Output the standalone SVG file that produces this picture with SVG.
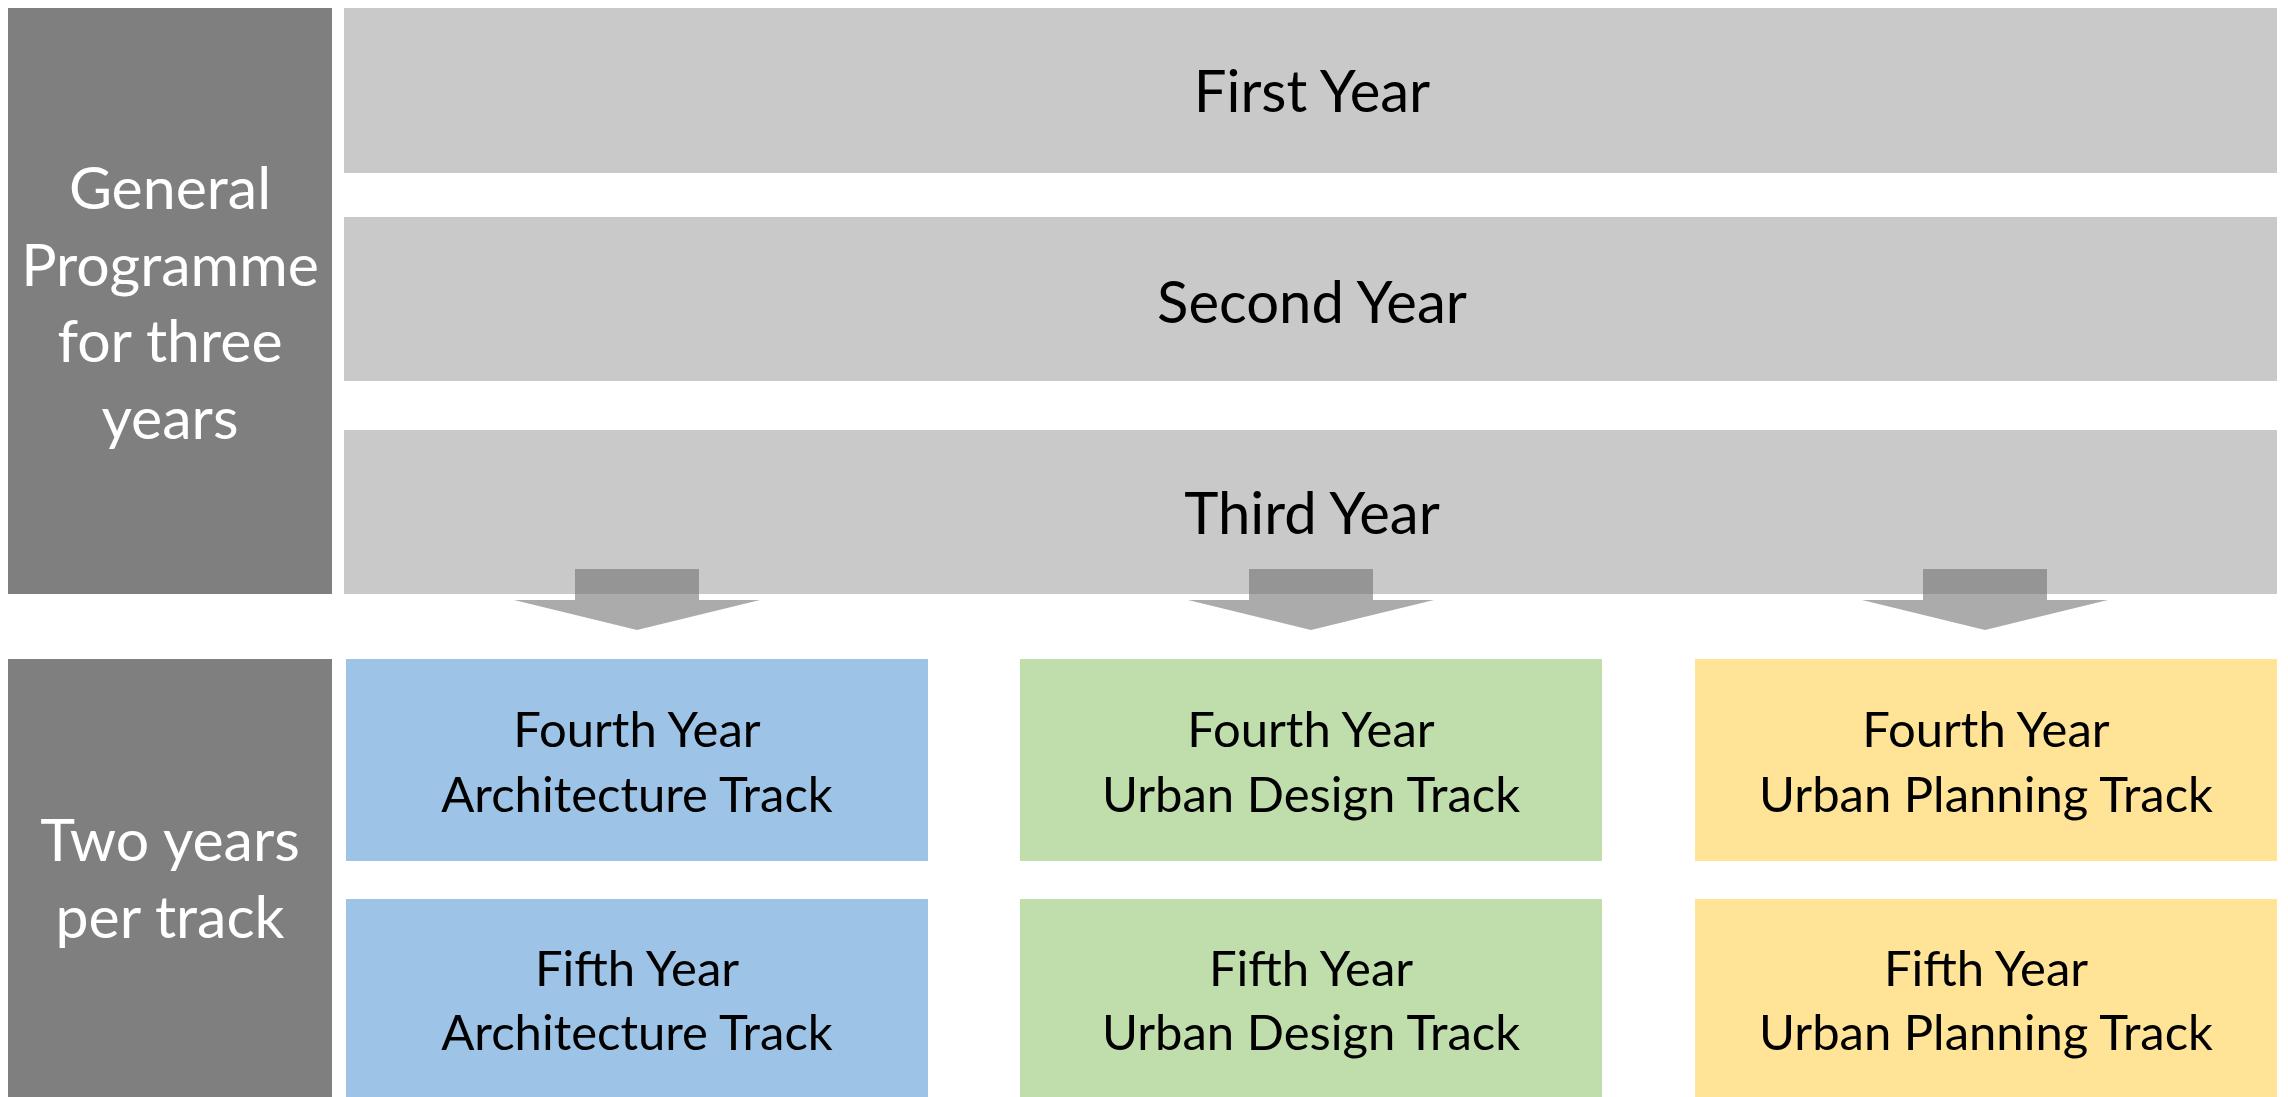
<svg xmlns="http://www.w3.org/2000/svg" width="2288" height="1097" viewBox="0 0 2288 1097">
<style>
.dark{fill:#7F7F7F}
.gray{fill:#C9C9C9}
.blue{fill:#9DC3E6}
.green{fill:#C0DDAC}
.yellow{fill:#FFE396}
.arrow{fill:#737373;fill-opacity:0.6}
text{font-family:Lato,"Open Sans","Liberation Sans",sans-serif;text-anchor:middle}
.w{fill:#FFFFFF;font-size:59px}
.big{fill:#000000;font-size:58px}
.sm{fill:#000000;font-size:49px}
</style>
<rect width="2288" height="1097" fill="#FFFFFF"/>
<g id="general-programme">
<rect class="dark" x="8" y="8" width="324" height="586"/>
<text class="w" x="170" y="209">General</text>
<text class="w" x="170" y="286">Programme</text>
<text class="w" x="170" y="362">for three</text>
<text class="w" x="170" y="439">years</text>
</g>
<g id="two-years">
<rect class="dark" x="8" y="659" width="324" height="438"/>
<text class="w" x="170" y="861">Two years</text>
<text class="w" x="170" y="938">per track</text>
</g>
<g id="first-year">
<rect class="gray" x="344" y="8" width="1933" height="165"/>
<text class="big" x="1312" y="112">First Year</text>
</g>
<g id="second-year">
<rect class="gray" x="344" y="217" width="1933" height="164"/>
<text class="big" x="1312" y="323">Second Year</text>
</g>
<g id="third-year">
<rect class="gray" x="344" y="430" width="1933" height="164"/>
<text class="big" x="1312" y="534">Third Year</text>
</g>
<g id="connectors">
<polygon class="arrow" points="575,569 699,569 699,600 760,600 637,630 514,600 575,600"/>
<polygon class="arrow" points="1249,569 1373,569 1373,600 1434,600 1311,630 1188,600 1249,600"/>
<polygon class="arrow" points="1923,569 2047,569 2047,600 2108,600 1985,630 1862,600 1923,600"/>
</g>
<g id="arch-4">
<rect class="blue" x="346" y="659" width="582" height="202"/>
<text class="sm" x="637" y="747">Fourth Year</text>
<text class="sm" x="637" y="812">Architecture Track</text>
</g>
<g id="arch-5">
<rect class="blue" x="346" y="899" width="582" height="198"/>
<text class="sm" x="637" y="986">Fifth Year</text>
<text class="sm" x="637" y="1050">Architecture Track</text>
</g>
<g id="ud-4">
<rect class="green" x="1020" y="659" width="582" height="202"/>
<text class="sm" x="1311" y="747">Fourth Year</text>
<text class="sm" x="1311" y="812">Urban Design Track</text>
</g>
<g id="ud-5">
<rect class="green" x="1020" y="899" width="582" height="198"/>
<text class="sm" x="1311" y="986">Fifth Year</text>
<text class="sm" x="1311" y="1050">Urban Design Track</text>
</g>
<g id="up-4">
<rect class="yellow" x="1695" y="659" width="582" height="202"/>
<text class="sm" x="1986" y="747">Fourth Year</text>
<text class="sm" x="1986" y="812">Urban Planning Track</text>
</g>
<g id="up-5">
<rect class="yellow" x="1695" y="899" width="582" height="198"/>
<text class="sm" x="1986" y="986">Fifth Year</text>
<text class="sm" x="1986" y="1050">Urban Planning Track</text>
</g>
</svg>
